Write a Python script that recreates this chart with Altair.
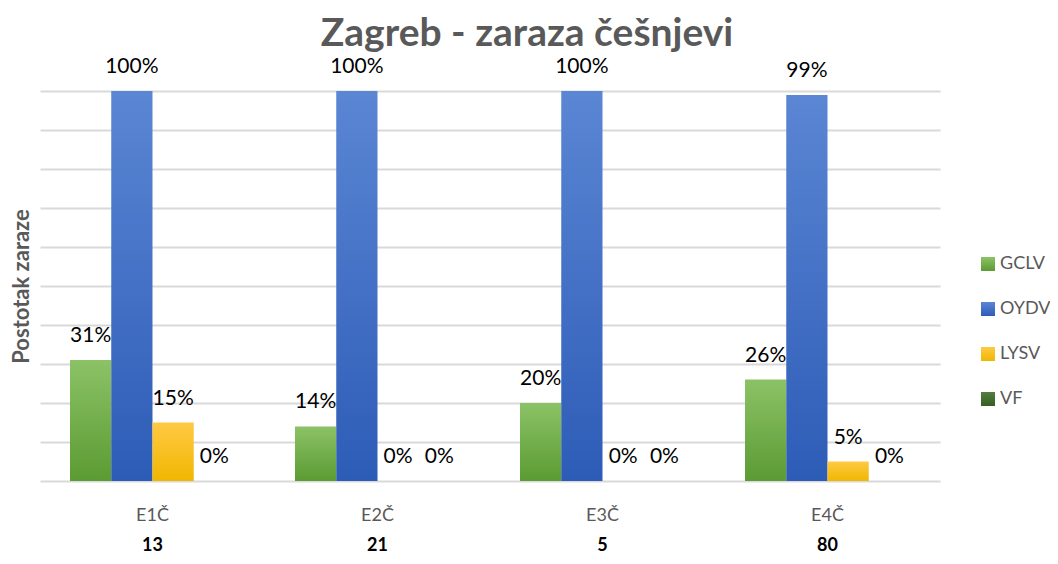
import altair as alt
import pandas as pd

categories = ["E1Č", "E2Č", "E3Č", "E4Č"]
counts = ["13", "21", "5", "80"]
series = ["GCLV", "OYDV", "LYSV", "VF"]
gclv = [31, 14, 20, 26]
oydv = [100, 100, 100, 99]
lysv = [15, 0, 0, 5]
vf = [0, 0, 0, 0]
y_ticks = [0, 10, 20, 30, 40, 50, 60, 70, 80, 90, 100]

grad_top = ["#8cc266", "#5b86d4", "#ffc945", "#547f40"]
grad_bot = ["#5b9b33", "#2d5cb7", "#f0b700", "#365d22"]

rows = []
for s, vals in zip(series, [gclv, oydv, lysv, vf]):
    for c, v in zip(categories, vals):
        rows.append({"cat": c, "series": s, "value": v, "label": f"{v}%"})
df = pd.DataFrame(rows)
df_cat = pd.DataFrame({"cat": categories, "count": counts})


def grad(t, b):
    return alt.ExprRef(
        expr="{gradient:'linear',x1:0,y1:0,x2:0,y2:1,stops:[{offset:0,color:'%s'},{offset:1,color:'%s'}]}" % (t, b)
    )


x_enc = alt.X("cat:N", sort=categories,
              scale=alt.Scale(domain=categories, paddingInner=0.2667, paddingOuter=0.1333),
              axis=None)
xo_enc = alt.XOffset("series:N", sort=series, scale=alt.Scale(domain=series))
y_enc = alt.Y("value:Q", scale=alt.Scale(domain=[0, 100], nice=False),
              axis=alt.Axis(values=y_ticks, labels=False, ticks=False, domain=False,
                            grid=True, gridColor="#d9d9d9", gridWidth=2,
                            title="Postotak zaraze", titleFont="Lato", titleFontSize=22,
                            titleFontWeight="bold", titleColor="#595959",
                            titleAngle=-90, titleX=-19, titleY=195,
                            titleBaseline="middle", titleAlign="center"))

bars = alt.Chart(df).mark_bar().encode(
    x=x_enc,
    xOffset=xo_enc,
    y=y_enc,
    color=alt.Color("series:N", sort=series,
                    scale=alt.Scale(domain=series,
                                    range=[grad(t, b) for t, b in zip(grad_top, grad_bot)]),
                    legend=alt.Legend(title=None, orient="none", legendX=939, legendY=164,
                                      symbolType="square", symbolSize=196, symbolStrokeWidth=0,
                                      labelFont="Lato", labelFontSize=18, labelColor="#595959",
                                      rowPadding=27, labelOffset=3, padding=0)),
)

labels = alt.Chart(df).mark_text(dy=-18, baseline="alphabetic", font="Lato",
                                 fontSize=21, color="black").encode(
    x=x_enc,
    xOffset=xo_enc,
    y=y_enc,
    text="label:N",
)

cat_labels = alt.Chart(df_cat).mark_text(baseline="middle", font="Lato", fontSize=18,
                                         color="#595959").encode(
    x=x_enc,
    y=alt.value(425),
    text="cat:N",
)

count_labels = alt.Chart(df_cat).mark_text(baseline="middle", font="Lato", fontSize=18,
                                           fontWeight="bold", color="black").encode(
    x=x_enc,
    y=alt.value(455),
    text="count:N",
)

chart = alt.layer(bars, labels, cat_labels, count_labels).properties(
    width=900,
    height=390,
    title=alt.TitleParams("Zagreb - zaraza češnjevi", font="Lato", fontSize=39,
                          fontWeight="bold", color="#595959", anchor="middle",
                          frame="group", dx=37, dy=36, baseline="alphabetic", offset=7),
    autosize=alt.AutoSizeParams(type="none"),
    padding={"left": 32, "top": 83, "right": 110, "bottom": 75},
    background="white",
).configure_view(stroke=None)

chart.save("out.html", embed_options={"renderer": "svg", "actions": False})
